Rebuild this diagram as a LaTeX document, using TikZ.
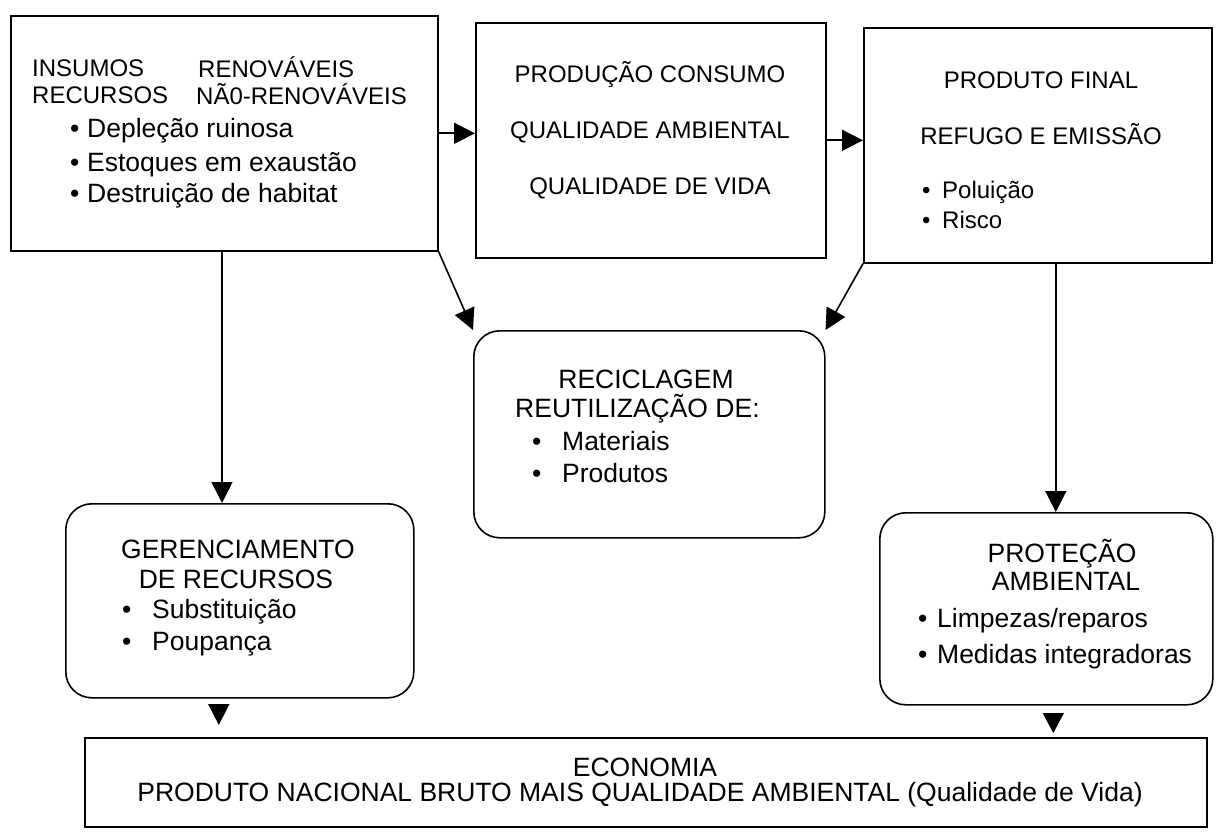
\documentclass[tikz,border=0pt]{standalone}
\usepackage{fontspec}
\setmainfont{Liberation Sans}
\usetikzlibrary{arrows.meta,positioning,calc}

\newcommand{\bul}[2]{\makebox[#1][l]{\textbullet}#2}

\tikzset{
	caixa/.style={draw, line width=1.6pt, inner sep=0pt, anchor=north west},
	redonda/.style={caixa, rounded corners=26pt},
	txt/.style={inner sep=0pt, anchor=base west, font=\fontsize{24}{28}\selectfont},
	txtc/.style={txt, anchor=base},
	txtg/.style={txt, font=\fontsize{26.5}{31}\selectfont},
	txtgc/.style={txtg, anchor=base},
	seta/.style={line width=1.6pt, -{Triangle[length=21pt,width=21pt]}},
}

\begin{document}
\begin{tikzpicture}[x=1pt,y=-1pt]
	\useasboundingbox (0,0) rectangle (1217,834);
	% caixas
	\node[caixa, minimum width=427pt, minimum height=235pt] (insumos) at (10,15) {};
	\node[caixa, minimum width=350pt, minimum height=235pt] (producao) at (475,22) {};
	\node[caixa, minimum width=348pt, minimum height=235pt] (produto) at (863,27) {};
	\node[redonda, minimum width=351pt, minimum height=207pt] (reciclagem) at (473,330) {};
	\node[redonda, minimum width=348pt, minimum height=194pt] (gerenc) at (65,503) {};
	\node[redonda, minimum width=333pt, minimum height=192pt] (protecao) at (879,512) {};
	\node[caixa, minimum width=1122pt, minimum height=89pt] (economia) at (84,737) {};

	% textos
	\node[txt] (ins) at (32,77) {INSUMOS};
	\node[txt] (ren) at (198,78) {RENOVÁVEIS};
	\node[txt] (rec) at (32,104) {RECURSOS};
	\node[txt] (nren) at (196,105) {NÃ0-RENOVÁVEIS};
	\node[txtg] (depl) at (70,138) {\bul{17pt}{Depleção ruinosa}};
	\node[txtg] (esto) at (70,172) {\bul{17pt}{Estoques em exaustão}};
	\node[txtg] (dest) at (70,203) {\bul{17pt}{Destruição de habitat}};

	\node[txtc] (prod) at (650,83) {PRODUÇÃO CONSUMO};
	\node[txtc] (qamb) at (650,139) {QUALIDADE AMBIENTAL};
	\node[txtc] (qvid) at (650,195) {QUALIDADE DE VIDA};

	\node[txtc] (pfin) at (1041,89) {PRODUTO FINAL};
	\node[txtc] (refu) at (1041,145) {REFUGO E EMISSÃO};
	\node[txt] (polu) at (922,199) {\bul{20pt}{Poluição}};
	\node[txt] (risc) at (922,229) {\bul{20pt}{Risco}};

	\node[txtgc] (reci) at (646,388) {RECICLAGEM};
	\node[txtg] (reut) at (515,417) {REUTILIZAÇÃO DE:};
	\node[txtg] (mate) at (532,450) {\bul{30pt}{Materiais}};
	\node[txtg] (prdt) at (532,482) {\bul{30pt}{Produtos}};

	\node[txtgc] (gere) at (238,558) {GERENCIAMENTO};
	\node[txtgc] (derc) at (236,588) {DE RECURSOS};
	\node[txtg] (subs) at (122,618) {\bul{30pt}{Substituição}};
	\node[txtg] (poup) at (122,650) {\bul{30pt}{Poupança}};

	\node[txtgc] (prot) at (1062,562) {PROTEÇÃO};
	\node[txtgc] (ambi) at (1066,590) {AMBIENTAL};
	\node[txtg] (limp) at (918,627) {\bul{19pt}{Limpezas/reparos}};
	\node[txtg] (medi) at (918,663) {\bul{19pt}{Medidas integradoras}};

	\node[txtgc] (econ) at (645,776) {ECONOMIA};
	\node[txtgc] (pnb) at (640,801) {PRODUTO NACIONAL BRUTO MAIS QUALIDADE AMBIENTAL (Qualidade de Vida)};

	% setas
	\coordinate (cp) at ($(produto.south)+(18,0)$);
	\coordinate (ge) at ($(gerenc.south)+(-21,7)$);
	\coordinate (pr) at ($(protecao.south)+(7,9)$);
	\draw[seta] (insumos.east) -- (insumos.east -| producao.west);
	\draw[seta] (producao.east) -- (producao.east -| produto.west);
	\draw[seta] (insumos.south east) -- (reciclagem.north west);
	\draw[seta] (produto.south west) -- (reciclagem.north east);
	\draw[seta] (insumos.south -| 222,0) -- (gerenc.north -| 222,0);
	\draw[seta] (cp) -- (cp |- protecao.north);
	\draw[seta] (ge) -- ($(ge |- economia.north)+(0,-12)$);
	\draw[seta, -{Triangle[length=20pt,width=21pt]}] (pr) -- ($(pr |- economia.north)+(0,-4)$);
\end{tikzpicture}
\end{document}
